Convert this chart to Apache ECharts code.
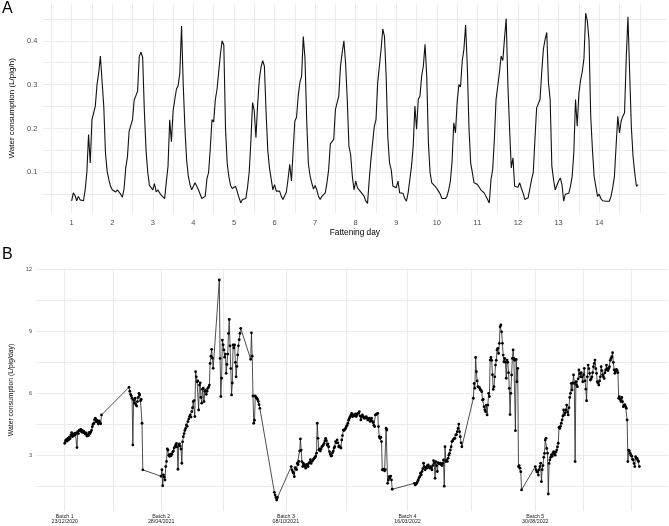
<!DOCTYPE html>
<html>
<head>
<meta charset="utf-8">
<title>Water consumption</title>
<script src="https://cdn.jsdelivr.net/npm/echarts@6/dist/echarts.min.js"></script>
<style>
  html, body { margin: 0; padding: 0; background: #fff; }
  #chart { width: 669px; height: 526px; }
</style>
</head>
<body>
<div id="chart"></div>
<script>
// ---- panel A : mean hourly water use (L/pig/h), one array of 24 hours per fattening day
const day1 = [0.035, 0.053, 0.047, 0.035, 0.045, 0.037, 0.04, 0.035, 0.06, 0.1, 0.186, 0.121, 0.22, 0.235, 0.251, 0.3, 0.327, 0.365, 0.362, 0.25, 0.144, 0.102, 0.083, 0.068];
const day2 = [0.06, 0.064, 0.055, 0.06, 0.057, 0.05, 0.043, 0.062, 0.11, 0.135, 0.194, 0.19, 0.22, 0.265, 0.275, 0.285, 0.365, 0.374, 0.362, 0.24, 0.15, 0.1, 0.07, 0.07];
const day3 = [0.06, 0.074, 0.055, 0.06, 0.053, 0.048, 0.045, 0.04, 0.078, 0.114, 0.22, 0.17, 0.24, 0.266, 0.29, 0.298, 0.327, 0.434, 0.3, 0.2, 0.128, 0.091, 0.072, 0.06];
const day4 = [0.068, 0.076, 0.072, 0.06, 0.05, 0.04, 0.038, 0.045, 0.085, 0.1, 0.155, 0.22, 0.215, 0.266, 0.29, 0.33, 0.37, 0.4, 0.39, 0.2, 0.12, 0.09, 0.07, 0.063];
const day5 = [0.065, 0.068, 0.072, 0.042, 0.03, 0.038, 0.036, 0.04, 0.065, 0.1, 0.17, 0.259, 0.24, 0.179, 0.255, 0.312, 0.34, 0.355, 0.342, 0.236, 0.15, 0.11, 0.085, 0.06];
const day6 = [0.072, 0.057, 0.055, 0.057, 0.045, 0.038, 0.036, 0.055, 0.085, 0.118, 0.08, 0.15, 0.217, 0.225, 0.275, 0.305, 0.32, 0.41, 0.36, 0.22, 0.12, 0.092, 0.076, 0.062];
const day7 = [0.07, 0.06, 0.045, 0.038, 0.045, 0.042, 0.053, 0.076, 0.106, 0.165, 0.17, 0.175, 0.243, 0.259, 0.274, 0.342, 0.373, 0.4, 0.35, 0.266, 0.159, 0.14, 0.091, 0.06];
const day8 = [0.08, 0.065, 0.06, 0.058, 0.05, 0.045, 0.034, 0.029, 0.083, 0.129, 0.167, 0.205, 0.22, 0.304, 0.342, 0.38, 0.427, 0.41, 0.32, 0.18, 0.121, 0.106, 0.068, 0.065];
const day9 = [0.065, 0.08, 0.053, 0.05, 0.052, 0.04, 0.034, 0.053, 0.083, 0.114, 0.159, 0.251, 0.198, 0.266, 0.274, 0.32, 0.342, 0.392, 0.32, 0.167, 0.099, 0.076, 0.072, 0.068];
const day10 = [0.07, 0.057, 0.05, 0.04, 0.038, 0.04, 0.045, 0.06, 0.08, 0.125, 0.213, 0.19, 0.26, 0.3, 0.295, 0.354, 0.381, 0.436, 0.342, 0.2, 0.121, 0.099, 0.076, 0.072];
const day11 = [0.072, 0.068, 0.06, 0.058, 0.053, 0.045, 0.038, 0.03, 0.083, 0.106, 0.175, 0.266, 0.266, 0.327, 0.365, 0.355, 0.405, 0.451, 0.3, 0.2, 0.11, 0.133, 0.068, 0.066];
const day12 = [0.066, 0.076, 0.063, 0.053, 0.038, 0.034, 0.042, 0.045, 0.083, 0.099, 0.175, 0.247, 0.251, 0.266, 0.327, 0.381, 0.403, 0.419, 0.305, 0.266, 0.114, 0.083, 0.06, 0.062];
const day13 = [0.08, 0.087, 0.072, 0.034, 0.05, 0.05, 0.052, 0.068, 0.09, 0.144, 0.266, 0.205, 0.28, 0.31, 0.33, 0.36, 0.463, 0.445, 0.4, 0.228, 0.152, 0.091, 0.068, 0.045];
const day14 = [0.05, 0.04, 0.035, 0.034, 0.034, 0.034, 0.034, 0.045, 0.065, 0.09, 0.16, 0.228, 0.19, 0.217, 0.228, 0.236, 0.36, 0.455, 0.33, 0.205, 0.137, 0.099, 0.068, 0.072];
const hourlyDays = [day1, day2, day3, day4, day5, day6, day7, day8, day9, day10, day11, day12, day13, day14];

// grid breaks / labels of panel A
const dayBreaks = [0.5, 1, 1.5, 2, 2.5, 3, 3.5, 4, 4.5, 5, 5.5, 6, 6.5, 7, 7.5, 8, 8.5, 9, 9.5, 10, 10.5, 11, 11.5, 12, 12.5, 13, 13.5, 14, 14.5, 15];
const dayLabels = [1, 2, 3, 4, 5, 6, 7, 8, 9, 10, 11, 12, 13, 14];
const hourlyBreaks = [0.05, 0.1, 0.15, 0.2, 0.25, 0.3, 0.35, 0.4, 0.45];
const hourlyLabels = [0.1, 0.2, 0.3, 0.4];

// ---- panel B : daily water use (L/pig/day), runs of consecutive days
const runStarts = ['2020-12-23', '2021-03-17', '2021-04-28', '2021-07-13', '2021-08-23', '2021-09-23', '2021-10-15', '2022-03-25', '2022-06-10', '2022-08-30'];
const run1 = [3.58, 3.7, 3.76, 3.68, 3.82, 3.74, 3.88, 3.8, 3.98, 4.09, 3.9, 4.02, 3.95, 4.06, 4.0, 4.08, 3.37, 4.14, 4.05, 4.22, 4.18, 4.25, 4.12, 4.2, 4.1, 4.15, 4.09, 4.02, 4.08, 3.93, 4.0, 3.95, 4.1, 4.05, 4.12, 4.2, 4.38, 4.5, 4.54, 4.72, 4.79, 4.62, 4.7, 4.6, 4.51, 4.66, 4.58, 4.52, 4.95];
const run2 = [6.29, 6.1, 5.95, 5.87, 5.76, 3.5, 5.68, 5.52, 5.76, 5.45, 5.38, 5.6, 5.8, 6.0, 5.92, 5.64, 5.7, 4.55, 2.29];
const run3 = [1.98, 2.3, 1.52, 2.05, 1.95, 1.8, 2.45, 2.7, 3.3, 3.25, 3.0, 2.95, 3.05, 2.97, 3.05, 3.15, 3.2, 3.35, 3.41, 3.5, 3.57, 3.4, 2.32, 3.5, 3.55, 3.45, 3.3, 2.61, 3.65, 3.9, 4.05, 4.2, 4.3, 4.47, 4.4, 4.63, 4.75, 4.87, 4.95, 4.85, 5.11, 5.3, 5.6, 5.65, 4.87, 7.05, 6.8, 6.56, 6.6, 5.19, 6.4, 6.51, 5.8, 5.52, 6.2, 6.25, 5.6, 6.1, 6.15, 5.95, 6.1, 6.24, 6.3, 6.4, 7.45, 7.8, 8.13, 7.7, 7.21];
const run4 = [11.49, 7.69, 5.84, 6.73, 8.58, 8.35, 8.1, 7.75, 7.9, 6.97, 7.4, 7.9, 8.9, 9.58, 8.3, 7.2, 5.92, 6.5, 8.34, 8.2, 8.34, 7.5, 6.8, 7.3, 7.86, 8.3, 8.6, 8.9, 9.15];
const run5 = [7.65, 8.93, 7.8, 5.87, 4.55, 4.7, 5.88, 5.8, 5.76, 5.7, 5.6, 5.45, 5.27];
const run6 = [1.2, 1.07, 0.95, 0.83, 0.95];
const run7 = [2.45, 2.29, 2.2, 2.13, 1.96, 2.4, 2.35, 2.3, 2.61, 2.55, 2.7, 3.2, 3.79, 3.25, 2.69, 2.45, 2.6, 2.53, 2.45, 2.37, 2.55, 2.5, 2.45, 2.61, 2.65, 2.78, 2.6, 2.7, 2.75, 2.8, 2.85, 2.9, 2.96, 3.1, 4.55, 3.82, 3.25, 3.3, 3.2, 3.3, 3.41, 3.45, 3.5, 3.57, 3.7, 3.82, 3.7, 3.49, 3.55, 3.41, 3.17, 3.05, 2.96, 2.98, 3.12, 3.2, 3.35, 3.41, 3.66, 3.6, 3.74, 3.6, 3.41, 3.45, 3.38, 3.35, 3.74, 3.95, 4.22, 4.2, 4.25, 4.3, 4.39, 4.45, 4.55, 4.7, 4.79, 4.87, 4.95, 5.03, 4.87, 4.95, 4.9, 4.95, 5.0, 4.87, 4.95, 5.03, 5.05, 5.11, 4.9, 4.71, 4.85, 4.95, 4.88, 4.8, 4.79, 4.83, 4.87, 4.8, 4.71, 4.75, 4.79, 4.63, 4.7, 4.79, 4.65, 4.58, 4.45, 4.39, 4.95, 4.98, 5.0, 5.03, 4.39, 3.9, 3.82, 3.87, 3.66, 2.29, 2.3, 2.32, 2.24, 2.3, 4.31, 4.22, 1.64, 1.8, 1.96, 1.9, 1.99, 1.8, 1.35];
const run8 = [1.64, 1.56, 1.6, 1.64, 1.72, 1.8, 1.9, 1.96, 2.13, 2.05, 2.21, 2.35, 2.61, 2.45, 2.29, 2.4, 2.37, 2.5, 2.53, 2.45, 2.37, 2.45, 2.38, 2.29, 2.5, 2.74, 2.6, 1.88, 2.69, 2.5, 2.21, 2.64, 2.6, 2.58, 2.61, 2.55, 2.5, 2.6, 2.77, 1.5, 3.41, 2.69, 2.75, 2.7, 2.85, 3.0, 3.09, 3.25, 3.41, 3.66, 3.7, 3.77, 3.8, 3.82, 3.98, 4.0, 4.14, 4.3, 4.51, 4.14, 3.9, 3.6, 3.41];
const run9 = [5.76, 6.48, 6.24, 7.74, 7.05, 6.6, 6.32, 6.3, 6.28, 6.19, 6.15, 6.08, 5.68, 5.7, 5.35, 5.2, 5.11, 5.43, 4.95, 5.43, 6.0, 5.84, 7.61, 7.74, 7.6, 6.9, 6.19, 6.32, 6.8, 7.37, 7.6, 8.1, 8.18, 7.93, 8.42, 9.23, 9.31, 8.98, 8.42, 7.85, 7.53, 7.69, 7.5, 6.73, 7.61, 7.5, 7.0, 6.24, 4.97, 6.0, 6.89, 7.69, 8.1, 7.69, 7.6, 4.19, 7.64, 6.56, 7.21, 2.45, 2.5, 2.37, 2.2, 1.32];
const run10 = [2.45, 2.3, 2.2, 2.2, 2.04, 2.3, 2.45, 2.61, 1.72, 2.3, 2.5, 2.9, 3.09, 3.74, 3.82, 3.33, 3.1, 1.12, 2.6, 2.77, 2.9, 3.01, 2.95, 3.1, 3.17, 3.05, 3.0, 3.15, 3.25, 3.4, 3.58, 4.35, 4.3, 4.4, 4.55, 4.71, 4.9, 5.19, 4.95, 5.05, 5.2, 5.43, 5.1, 4.95, 5.3, 5.8, 6.0, 6.48, 6.16, 6.5, 6.89, 6.48, 2.69, 6.56, 6.4, 6.32, 6.7, 7.13, 6.95, 6.8, 7.0, 6.8, 6.56, 6.9, 7.21, 6.6, 6.2, 5.64, 6.8, 7.37, 7.2, 6.97, 6.64, 6.7, 6.8, 7.0, 7.29, 7.45, 7.61, 7.2, 6.97, 6.56, 6.5, 6.4, 6.6, 6.8, 7.29, 7.1, 6.9, 6.8, 6.72, 7.0, 7.13, 7.37, 7.2, 7.1, 7.2, 7.29, 7.6, 7.69, 7.77, 7.97, 7.5, 7.13, 6.97, 7.05, 7.16, 7.1, 7.0, 5.76, 5.84, 5.7, 5.6, 5.8, 5.6, 5.35, 5.4, 5.45, 5.35, 5.27, 4.71, 2.69, 3.25, 3.2, 3.09, 3.0, 2.95, 2.8, 2.77, 2.6, 2.45, 2.93, 2.85, 2.85, 2.75, 2.7, 2.45];
const runs = [run1, run2, run3, run4, run5, run6, run7, run8, run9, run10];

// batch starts used as breaks / labels of panel B
const batchNames = ['Batch 1', 'Batch 2', 'Batch 3', 'Batch 4', 'Batch 5'];
const batchDates = ['2020-12-23', '2021-04-28', '2021-10-08', '2022-03-16', '2022-08-30'];
const dailyBreaks = [1.5, 3, 4.5, 6, 7.5, 9, 10.5, 12];
const dailyLabels = [3, 6, 9, 12];

const FONT = '"Liberation Sans", Arial, sans-serif';
const DAY = 86400000;

// hourly series: x = fattening day + hour / 24
let hourlyData = [];
hourlyDays.forEach(function (vals, d) {
    vals.forEach(function (v, h) {
        hourlyData.push([d + 1 + h / 24, v]);
    });
});

let dailyData = [];
runs.forEach(function (vals, r) {
    let t0 = new Date(runStarts[r]).getTime();
    vals.forEach(function (v, i) {
        dailyData.push([t0 + i * DAY, v]);
    });
});

// ggplot style 5% expansion
function expand(arr) {
    let lo = Math.min.apply(null, arr), hi = Math.max.apply(null, arr);
    let pad = (hi - lo) * 0.05;
    return [lo - pad, hi + pad];
}
let xA = expand(hourlyData.map(p => p[0]));
let yA = expand(hourlyData.map(p => p[1]));
let xB = expand(dailyData.map(p => p[0]));
let yB = expand(dailyData.map(p => p[1]));

// breaks of panel B: batch starts, mid points, one extra step after the last batch
let batchTs = batchDates.map(s => new Date(s).getTime());
let step = batchTs[1] - batchTs[0];
let extTs = batchTs.concat([batchTs[batchTs.length - 1] + step]);
let dateBreaks = [];
for (let i = 0; i < extTs.length; i++) {
    dateBreaks.push(extTs[i]);
    if (i < extTs.length - 1) dateBreaks.push((extTs[i] + extTs[i + 1]) / 2);
}

function dmy(s) {
    let p = s.split('-');
    return p[2] + '/' + p[1] + '/' + p[0];
}

const gridLine = { show: true, lineStyle: { color: '#ebebeb', width: 1 } };

let chart = echarts.init(document.getElementById('chart'));
let option = {
    animation: false,
    textStyle: { fontFamily: FONT },
    graphic: [
        { type: 'text', left: 2, top: 1, style: { text: 'A', font: '16px ' + FONT, fill: '#000' } },
        { type: 'text', left: 2, top: 247, style: { text: 'B', font: '16px ' + FONT, fill: '#000' } }
    ],
    grid: [
        { left: 27.7, right: 2.6, top: 3.7, height: 209.2 },
        { left: 20.7, right: 0.9, top: 269, height: 242 }
    ],
    xAxis: [{
        gridIndex: 0,
        type: 'value',
        min: xA[0],
        max: xA[1],
        axisLine: { show: false },
        axisTick: { show: false, customValues: dayBreaks },
        splitLine: gridLine,
        axisLabel: {
            customValues: dayLabels,
            margin: 6,
            fontSize: 7.5,
            color: '#4d4d4d',
            formatter: v => String(Math.round(v))
        },
        name: 'Fattening day',
        nameLocation: 'middle',
        nameGap: 16,
        nameTextStyle: { fontSize: 8.3, color: '#000' }
    }, {
        gridIndex: 1,
        type: 'value',
        min: xB[0],
        max: xB[1],
        axisLine: { show: false },
        axisTick: { show: false, customValues: dateBreaks },
        splitLine: gridLine,
        axisLabel: {
            customValues: batchTs,
            margin: 3,
            fontSize: 5.3,
            lineHeight: 5.2,
            color: '#222',
            formatter: function (v) {
                let i = batchTs.indexOf(v);
                return i < 0 ? '' : batchNames[i] + '\n' + dmy(batchDates[i]);
            }
        }
    }],
    yAxis: [{
        gridIndex: 0,
        type: 'value',
        min: yA[0],
        max: yA[1],
        axisLine: { show: false },
        axisTick: { show: false, customValues: hourlyBreaks },
        splitLine: gridLine,
        axisLabel: {
            customValues: hourlyLabels,
            margin: 6,
            fontSize: 7.5,
            color: '#4d4d4d',
            formatter: v => v.toFixed(1)
        },
        name: 'Water consumption (L/pig/h)',
        nameLocation: 'middle',
        nameRotate: 90,
        nameGap: 17.5,
        nameTextStyle: { fontSize: 8, color: '#000' }
    }, {
        gridIndex: 1,
        type: 'value',
        min: yB[0],
        max: yB[1],
        axisLine: { show: false },
        axisTick: { show: false, customValues: dailyBreaks },
        splitLine: gridLine,
        axisLabel: {
            customValues: dailyLabels,
            margin: 4,
            fontSize: 5.5,
            color: '#4d4d4d',
            formatter: v => String(Math.round(v))
        },
        name: 'Water consumption (L/pig/day)',
        nameLocation: 'middle',
        nameRotate: 90,
        nameGap: 14.5,
        nameTextStyle: { fontSize: 6.8, color: '#000' }
    }],
    series: [{
        type: 'line',
        xAxisIndex: 0,
        yAxisIndex: 0,
        data: hourlyData,
        showSymbol: false,
        lineStyle: { color: '#111', width: 1.1 }
    }, {
        type: 'line',
        xAxisIndex: 1,
        yAxisIndex: 1,
        data: dailyData,
        symbol: 'circle',
        symbolSize: 2.8,
        itemStyle: { color: '#000' },
        lineStyle: { color: '#222', width: 0.8 }
    }]
};
chart.setOption(option);
</script>
</body>
</html>
